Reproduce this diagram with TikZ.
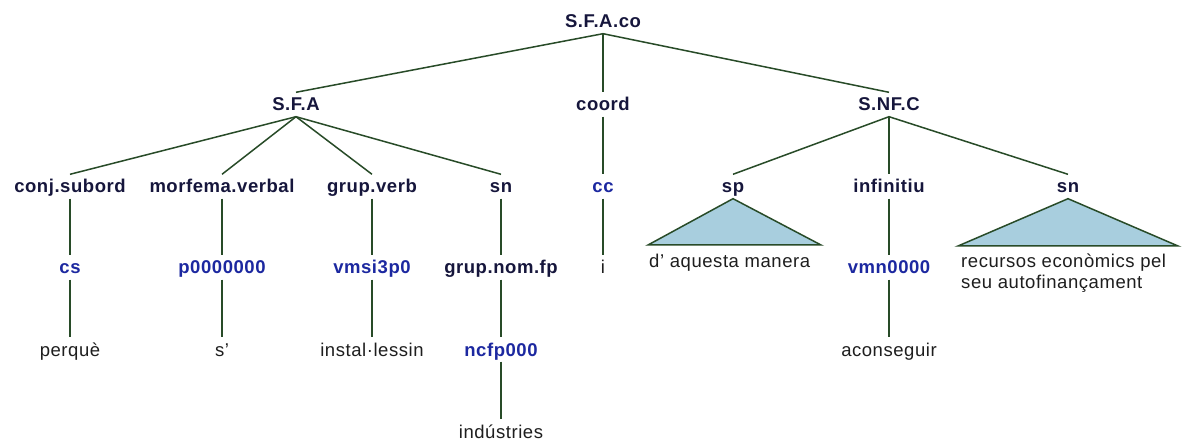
\documentclass[tikz,border=0pt]{standalone}
\usepackage{fontspec}
\setmainfont{Liberation Sans}[LetterSpace=3]
\definecolor{catc}{RGB}{22,22,60}
\definecolor{tagc}{RGB}{28,40,160}
\definecolor{wordc}{RGB}{30,30,30}
\definecolor{linec}{RGB}{40,75,40}
\definecolor{trifill}{RGB}{168,206,222}
\begin{document}
\begin{tikzpicture}[x=1pt,y=-1pt,
  lbl/.style={anchor=base,inner xsep=0pt,inner ysep=4.5pt,text height=14pt,text depth=1pt},
  cat/.style={lbl,text=catc,font=\fontsize{18.5}{21}\selectfont\bfseries},
  tag/.style={lbl,text=tagc,font=\fontsize{18.5}{21}\selectfont\bfseries},
  word/.style={lbl,text=wordc,font=\fontsize{18.5}{21}\selectfont},
  leaf/.style={anchor=base west,align=left,inner sep=0pt,text=wordc,font=\fontsize{18.5}{21}\selectfont},
  edge/.style={draw=linec,line width=1.5pt},
  tri/.style={draw=linec,fill=trifill,line width=1.5pt,line join=miter}]
\fill[white] (0,0) rectangle (1185,443);
\useasboundingbox (0,0) rectangle (1185,443);
% level 0
\node[cat] (root) at (603,28) {S.F.A.co};
% level 1
\node[cat] (sfa) at (296,111) {S.F.A};
\node[cat] (coord) at (603,111) {coord};
\node[cat] (snfc) at (889,111) {S.NF.C};
% level 2
\node[cat] (conj) at (70,193) {conj.subord};
\node[cat] (morf) at (222,193) {morfema.verbal};
\node[cat] (gverb) at (372,193) {grup.verb};
\node[cat] (snA) at (501,193) {sn};
\node[tag] (cc) at (603,193) {cc};
\node[cat] (sp) at (733,193) {sp};
\node[cat] (inf) at (889,193) {infinitiu};
\node[cat] (snB) at (1068,193) {sn};
% level 3
\node[tag] (cs) at (70,274) {cs};
\node[tag] (p0) at (222,274) {p0000000};
\node[tag] (vmsi) at (372,274) {vmsi3p0};
\node[cat] (gnom) at (501,274) {grup.nom.fp};
\node[word] (i) at (603,274) {i};
\node[tag] (vmn) at (889,274) {vmn0000};
% level 4
\node[word] (perque) at (70,356) {perquè};
\node[word] (s) at (222,356) {s’};
\node[word] (instal) at (372,356) {instal·lessin};
\node[tag] (ncfp) at (501,356) {ncfp000};
\node[word] (acons) at (889,356) {aconseguir};
% level 5
\node[word] (indus) at (501,438) {indústries};
% edges
\foreach \a/\b in {root/sfa,root/coord,root/snfc,
  sfa/conj,sfa/morf,sfa/gverb,sfa/snA,coord/cc,snfc/sp,snfc/inf,snfc/snB,
  conj/cs,morf/p0,gverb/vmsi,snA/gnom,cc/i,inf/vmn,
  cs/perque,p0/s,vmsi/instal,gnom/ncfp,vmn/acons,ncfp/indus}
  \draw[edge] (\a.south) -- (\b.north);
% triangles
\coordinate (spL) at (648,245);
\coordinate (spR) at (821,245);
\draw[tri] (sp.south) -- (spL) -- (spR) -- cycle;
\coordinate (snL) at (958,246);
\coordinate (snR) at (1178,246);
\draw[tri] (snB.south) -- (snL) -- (snR) -- cycle;
\node[leaf] (sptxt) at (649,268) {d’ aquesta manera};
\node[leaf] (sntxt) at (961,289) {recursos econòmics pel\\seu autofinançament};
\end{tikzpicture}
\end{document}
